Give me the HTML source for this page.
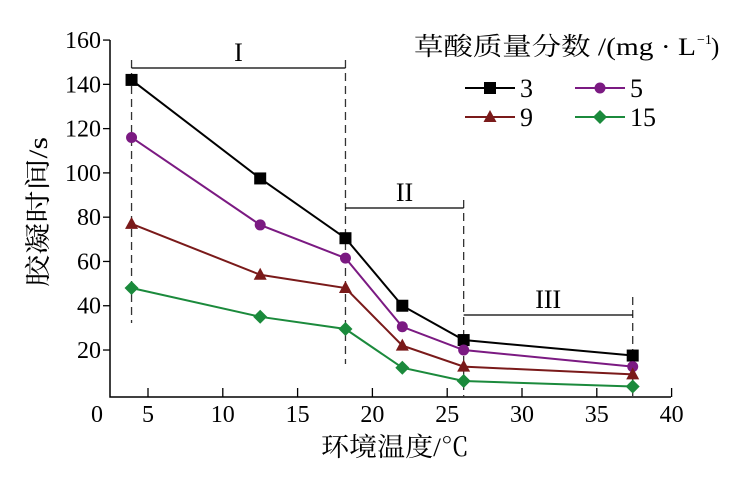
<!DOCTYPE html>
<html><head><meta charset="utf-8"><style>
body{margin:0;background:#fff}
svg{display:block;font-family:"Liberation Serif","Noto Serif CJK SC",serif}
</style></head><body>
<svg width="745" height="483" viewBox="0 0 745 483" id="c">
</svg>
<script>
const xVals=[3.9,12.5,18.2,22,26.1,37.4];
const seriesNames=['3','5','9','15'];
const s3=[142,97.5,70.5,40,24.5,17.5];
const s5=[116,76.5,61.5,30.5,20,12.5];
const s9=[77,54,48,22,12.5,9];
const s15=[48,35,29.5,12,6,3.5];
const xTicks=[5,10,15,20,25,30,35,40];
const yTicks=[20,40,60,80,100,120,140,160];
const NS='http://www.w3.org/2000/svg';
const svg=document.getElementById('c');
const X=v=>73.2+14.96*v, Y=v=>394.3-2.214*v;
function el(t,a,txt){const e=document.createElementNS(NS,t);for(const k in a)e.setAttribute(k,a[k]);if(txt!=null)e.textContent=txt;svg.appendChild(e);return e;}
let e;
e=el('path',{d:'M110 40V397H671',fill:'none',stroke:'#000','stroke-width':1.5});


yTicks.forEach(v=>{
 e=el('line',{x1:103,x2:110,y1:Y(v),y2:Y(v),stroke:'#000','stroke-width':1.3});
 
 
 e=el('text',{x:101,y:Y(v)+8,'text-anchor':'end','font-size':24},v);
 
 
});
e=el('text',{x:97,y:422,'text-anchor':'middle','font-size':24},'0');


xTicks.forEach(v=>{
 e=el('line',{x1:X(v),x2:X(v),y1:388,y2:397,stroke:'#000','stroke-width':1.3});
 
 
 e=el('text',{x:X(v),y:422,'text-anchor':'middle','font-size':24},v);
 
 
});
e=el('text',{x:395,y:456,'text-anchor':'middle','font-size':26,textLength:148,lengthAdjust:'spacingAndGlyphs'},'环境温度/℃');


e=el('text',{x:0,y:0,'text-anchor':'middle','font-size':26,textLength:150,lengthAdjust:'spacingAndGlyphs',transform:'translate(47,212) rotate(-90)'},'胶凝时间/s');


[[3.9,60,323],[18.2,60,364],[26.1,200,397],[37.4,297,397]].forEach(d=>{
 e=el('line',{x1:X(d[0]),x2:X(d[0]),y1:d[1],y2:d[2],stroke:'#333','stroke-width':1.3,'stroke-dasharray':'8,5'});
 
 
});
[[3.9,18.2,68,'I'],[18.2,26.1,208,'II'],[26.1,37.4,315,'III']].forEach(d=>{
 e=el('line',{x1:X(d[0]),x2:X(d[1]),y1:d[2],y2:d[2],stroke:'#000','stroke-width':1.3});
 
 
 e=el('text',{x:(X(d[0])+X(d[1]))/2,y:d[2]-7,'text-anchor':'middle','font-size':26},d[3]);
 
 
});
function marker(type,x,y,c){
 let m;
 if(type==='sq')m=el('rect',{x:x-6,y:y-6,width:12,height:12,fill:c});
 else if(type==='ci')m=el('circle',{cx:x,cy:y,r:5.5,fill:c});
 else if(type==='tr')m=el('path',{d:`M${x} ${y-7}L${x+6.5} ${y+5}L${x-6.5} ${y+5}Z`,fill:c});
 else m=el('path',{d:`M${x} ${y-7}L${x+7} ${y}L${x} ${y+7}L${x-7} ${y}Z`,fill:c});
 return m;
}
const series=[[s3,'#000','sq'],[s5,'#7b1a82','ci'],[s9,'#7a1a1a','tr'],[s15,'#1b8a3c','di']];
series.forEach((s,i)=>{
 e=el('polyline',{points:s[0].map((v,j)=>X(xVals[j])+','+Y(v)).join(' '),fill:'none',stroke:s[1],'stroke-width':2});
 
 
 s[0].forEach((v,j)=>{
  e=marker(s[2],X(xVals[j]),Y(v),s[1]);
  
  
 });
});
e=el('text',{x:414,y:55,'font-size':25,textLength:282,lengthAdjust:'spacingAndGlyphs'},'草酸质量分数 /(mg · L');


e=el('text',{x:697,y:44,'font-size':14},'−1');


e=el('text',{x:711,y:55,'font-size':25},')');


[[465,88],[575,88],[465,117],[575,117]].forEach((p,i)=>{
 const s=series[i];
 e=el('line',{x1:p[0],x2:p[0]+50,y1:p[1],y2:p[1],stroke:s[1],'stroke-width':2});
 
 
 e=marker(s[2],p[0]+25,p[1],s[1]);
 
 
 e=el('text',{x:p[0]+55,y:p[1]+9,'font-size':26},seriesNames[i]);
 
 
});
</script>
</body></html>
